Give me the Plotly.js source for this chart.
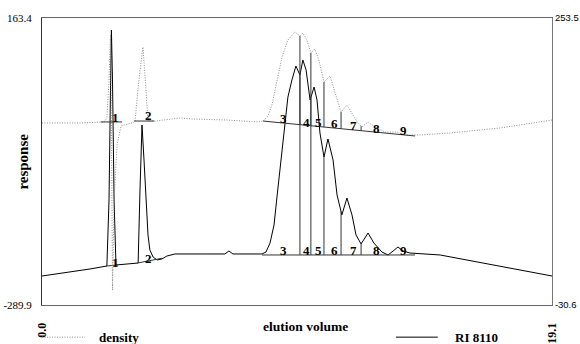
<!DOCTYPE html>
<html>
<head>
<meta charset="utf-8">
<script src="https://cdn.plot.ly/plotly-3.0.1.min.js"></script>
<style>html,body{margin:0;padding:0;background:#fff;}#chart{width:580px;height:344px;}</style>
</head>
<body>
<div id="chart"></div>
<script>
// ---- data (elution volume vs response) ----
const xRange = [0.0, 19.1];
const riRange = [-289.9, 163.4];
const denRange = [-30.6, 253.5];
const xTickText = ['0.0', '19.1'];
const riTickText = ['-289.9', '163.4'];
const denTickText = ['-30.6', '253.5'];

const riX = [0, 1.05, 1.80, 2.43, 2.51, 2.565, 2.60, 2.64, 2.70, 2.77, 3.11, 3.60, 3.67, 3.745, 3.82, 3.90, 3.97, 4.04, 4.16, 4.31, 4.49, 4.68, 4.98, 5.92, 6.85, 7.00, 7.15, 8.24, 8.39, 8.54, 8.69, 8.80, 8.99, 9.10, 9.21, 9.36, 9.51, 9.66, 9.77, 9.89, 10.04, 10.19, 10.30, 10.41, 10.56, 10.71, 10.90, 11.05, 11.23, 11.42, 11.61, 11.76, 11.95, 12.21, 12.43, 12.73, 12.96, 13.15, 13.33, 13.52, 13.78, 14.91, 19.1];
const riY = [-244.1, -237.8, -233.0, -228.3, -124.1, 49.7, 144.4, 65.5, -124.1, -226.7, -225.9, -223.6, -108.3, -5.6, -60.9, -124.1, -179.3, -203.0, -214.1, -218.8, -217.2, -212.5, -209.3, -209.3, -209.3, -204.6, -209.3, -209.3, -206.2, -192.0, -163.5, -119.3, -49.8, -5.6, 38.6, 65.5, 87.6, 73.4, 97.1, 81.3, 33.9, 54.4, 33.9, -18.2, -56.1, -27.7, -60.9, -116.2, -147.7, -120.9, -147.7, -179.3, -193.5, -176.2, -192.0, -206.2, -210.9, -204.6, -198.3, -204.6, -207.8, -210.9, -244.1];

const denX = [0, 1.42, 2.32, 2.43, 2.51, 2.565, 2.60, 2.64, 2.70, 2.81, 2.96, 3.18, 3.48, 3.63, 3.78, 3.87, 3.97, 4.23, 5.17, 5.66, 6.93, 8.09, 8.28, 8.46, 8.61, 8.73, 8.88, 8.99, 9.21, 9.47, 9.66, 9.77, 9.92, 10.07, 10.22, 10.37, 10.56, 10.79, 10.97, 11.20, 11.42, 11.61, 11.80, 11.98, 12.21, 12.47, 12.85, 13.30, 13.59, 14.16, 15.28, 17.15, 19.1];
const denY = [149.6, 149.6, 150.6, 154.5, 192.1, 236.7, 152.5, -15.8, 73.3, 127.8, 146.6, 148.6, 150.6, 192.1, 224.8, 192.1, 151.5, 151.5, 154.5, 153.5, 152.5, 150.6, 151.5, 156.5, 167.4, 182.2, 202.0, 214.9, 231.7, 239.6, 235.7, 238.7, 231.7, 218.9, 222.8, 211.9, 190.2, 196.1, 180.2, 160.4, 167.4, 158.5, 150.6, 145.6, 150.6, 145.6, 140.6, 140.6, 137.7, 137.7, 139.7, 144.6, 152.5];

// peak separation (drop lines)
const cutX = [9.66, 10.07, 10.56, 11.20, 11.95];
// integration baselines: [x0, y0, x1, y1]
const riBaselines = [[2.40, -228.3, 2.85, -226.7], [3.58, -223.6, 4.50, -216.0], [8.24, -210.9, 13.97, -210.9]];
const denBaselines = [[2.20, 150.6, 3.00, 150.6], [3.45, 151.5, 4.20, 151.5], [8.28, 151.5, 13.97, 136.7]];

// peak numbers
const peakNames = ['1', '2', '3', '4', '5', '6', '7', '8', '9'];
const labelX = [2.77, 3.97, 9.03, 9.92, 10.34, 10.94, 11.65, 12.51, 13.52];
const riLabelY = [-222.0, -215.7, -204.6, -204.6, -204.6, -204.6, -204.6, -204.6, -204.6];
const denLabelY = [155.5, 156.5, 154.5, 149.6, 149.6, 148.6, 146.6, 144.6, 142.6];

// ---- helpers ----
function interp(xs, ys, x) {
  for (let i = 0; i < xs.length - 1; i++) {
    if (x >= xs[i] && x <= xs[i + 1]) {
      const t = (x - xs[i]) / (xs[i + 1] - xs[i]);
      return ys[i] + t * (ys[i + 1] - ys[i]);
    }
  }
  return ys[ys.length - 1];
}
function segLines(baselines, curveX, curveY, cuts) {
  const X = [], Y = [];
  baselines.forEach(b => { X.push(b[0], b[2], null); Y.push(b[1], b[3], null); });
  const main = baselines[baselines.length - 1];
  cuts.forEach(c => {
    const yb = main[1] + (c - main[0]) / (main[2] - main[0]) * (main[3] - main[1]);
    X.push(c, c, null); Y.push(yb, interp(curveX, curveY, c), null);
  });
  return {X, Y};
}
const riSeg = segLines(riBaselines, riX, riY, cutX);
const denSeg = segLines(denBaselines, denX, denY, cutX);

const serif = 'Liberation Serif, Times New Roman, serif';
const denDash = '1px,1.5px';

const traces = [
  {x: denX, y: denY, yaxis: 'y2', mode: 'lines', name: 'density',
   line: {color: '#8c8c8c', width: 1, dash: denDash}, hoverinfo: 'skip'},
  {x: denSeg.X, y: denSeg.Y, yaxis: 'y2', mode: 'lines', line: {color: '#333', width: 1}, hoverinfo: 'skip', connectgaps: false},
  {x: riX, y: riY, mode: 'lines', name: 'RI 8110', line: {color: '#000', width: 1}, hoverinfo: 'skip'},
  {x: riSeg.X, y: riSeg.Y, mode: 'lines', line: {color: '#333', width: 1}, hoverinfo: 'skip', connectgaps: false}
];

const annotations = [];
peakNames.forEach((p, i) => {
  annotations.push({x: labelX[i], y: riLabelY[i], xref: 'x', yref: 'y', text: p, showarrow: false,
    font: {family: serif, size: 13, color: '#000', weight: 'bold'}, xanchor: 'center', yanchor: 'middle'});
  annotations.push({x: labelX[i], y: denLabelY[i], xref: 'x', yref: 'y2', text: p, showarrow: false,
    font: {family: serif, size: 13, color: '#000', weight: 'bold'}, xanchor: 'center', yanchor: 'middle'});
});
annotations.push({x: 0.516, y: -0.043, xref: 'paper', yref: 'paper', text: 'elution volume', showarrow: false,
  xanchor: 'center', yanchor: 'top', font: {family: serif, size: 13.5, color: '#000', weight: 'bold'}});
annotations.push({x: -0.039, y: 0.5, xref: 'paper', yref: 'paper', text: 'response', showarrow: false, textangle: -90,
  xanchor: 'center', yanchor: 'middle', font: {family: serif, size: 15, color: '#000', weight: 'bold'}});
// legend
annotations.push({x: 0.108, y: -0.112, xref: 'paper', yref: 'paper', text: 'density', showarrow: false,
  xanchor: 'left', yanchor: 'middle', font: {family: serif, size: 13, color: '#000', weight: 'bold'}});
annotations.push({x: 0.806, y: -0.112, xref: 'paper', yref: 'paper', text: 'RI 8110', showarrow: false,
  xanchor: 'left', yanchor: 'middle', font: {family: serif, size: 13, color: '#000', weight: 'bold'}});

const shapes = [
  {type: 'line', xref: 'paper', yref: 'paper', x0: 0.0, x1: 0.084, y0: -0.112, y1: -0.112, line: {color: '#8c8c8c', width: 1, dash: denDash}},
  {type: 'line', xref: 'paper', yref: 'paper', x0: 0.694, x1: 0.776, y0: -0.112, y1: -0.112, line: {color: '#000', width: 1}}
];

const layout = {
  width: 580, height: 344,
  margin: {l: 42, r: 28, t: 18, b: 39, pad: 0},
  paper_bgcolor: '#fff', plot_bgcolor: '#fff',
  showlegend: false,
  xaxis: {range: xRange, showgrid: false, zeroline: false, showline: true, mirror: true,
    linecolor: '#666', linewidth: 1, tickvals: xRange, ticktext: xTickText, tickangle: -90, ticks: '',
    ticklabelstandoff: 12, tickfont: {family: serif, size: 12, color: '#000', weight: 'bold'}},
  yaxis: {range: riRange, showgrid: false, zeroline: false, showline: true, linecolor: '#333', linewidth: 1,
    tickvals: riRange, ticktext: riTickText, ticks: '', ticklabelstandoff: 7,
    tickfont: {family: serif, size: 11, color: '#000'}},
  yaxis2: {range: denRange, overlaying: 'y', side: 'right', showgrid: false, zeroline: false, showline: true,
    linecolor: '#777', linewidth: 1, tickvals: denRange, ticktext: denTickText, ticks: '', ticklabelstandoff: 0,
    tickfont: {family: 'Liberation Sans, Arial, sans-serif', size: 9.5, color: '#000'}},
  annotations: annotations,
  shapes: shapes
};

Plotly.newPlot('chart', traces, layout, {staticPlot: true, displayModeBar: false});
</script>
</body>
</html>
